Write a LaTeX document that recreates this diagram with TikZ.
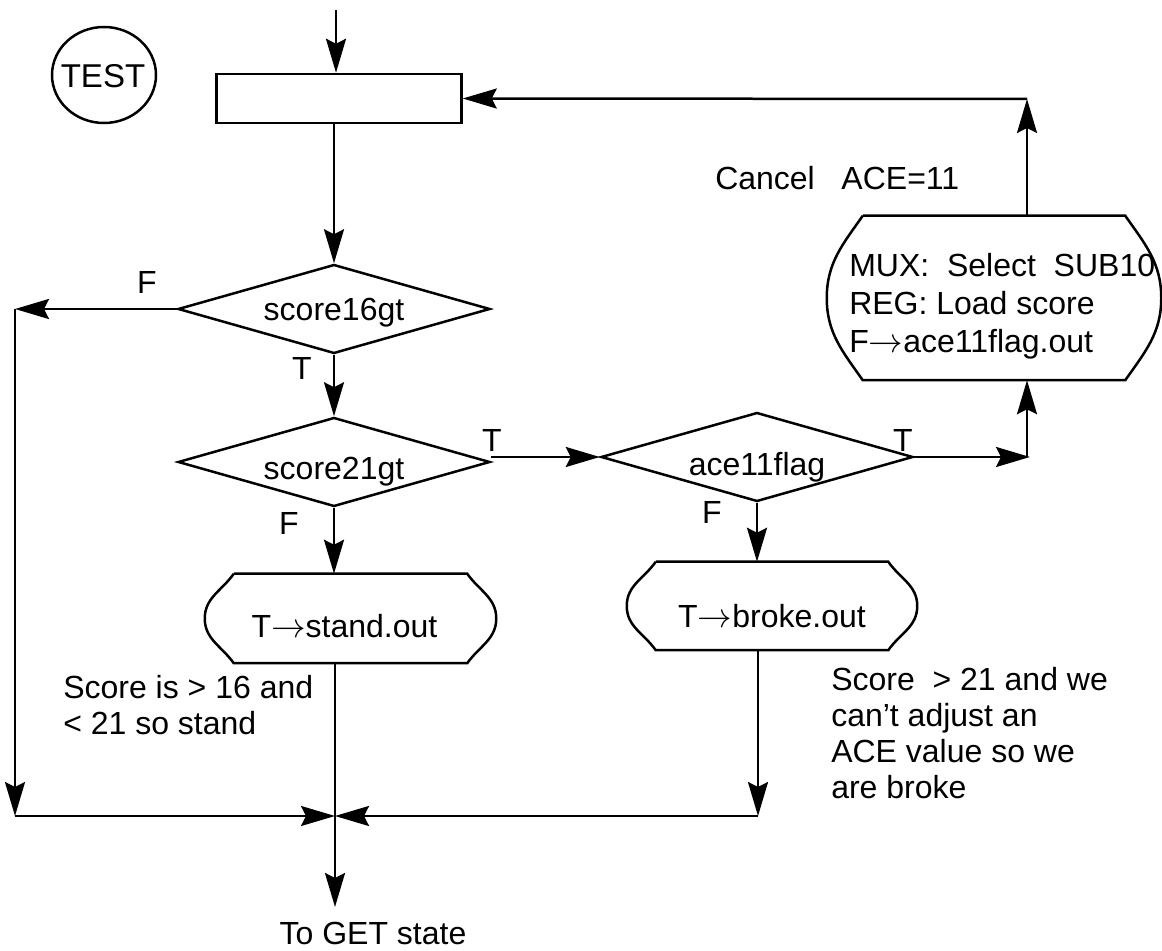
\documentclass[tikz,border=0pt]{standalone}
\usepackage{fontspec}
\setmainfont{Liberation Sans}
\usetikzlibrary{shapes.geometric,arrows.meta}
\newcommand\capsule[2]{%
  \draw ([xshift=#2]#1.north west) -- ([xshift=-#2]#1.north east)
    to[out=-55,in=90] (#1.east) to[out=-90,in=55] ([xshift=-#2]#1.south east)
    -- ([xshift=#2]#1.south west) to[out=125,in=-90] (#1.west)
    to[out=90,in=-125] ([xshift=#2]#1.north west);}
\begin{document}
\begin{tikzpicture}[x=0.5pt,y=-0.5pt,line width=1.25pt,
  every node/.style={font=\fontsize{16pt}{18pt}\selectfont},
  arr/.style={-{Stealth[length=17pt,width=10pt,inset=2.5pt]}},
  dia/.style={diamond,draw,inner sep=0pt,minimum width=156pt,minimum height=44.5pt},
  capbox/.style={rectangle,inner sep=0pt},
  lbl/.style={inner sep=0pt},
  txt/.style={inner sep=0pt,align=left,anchor=west}]
\useasboundingbox (0,0) rectangle (1162,951);
% nodes
\node[inner sep=0pt,font=\fontsize{16.5pt}{18pt}\selectfont] (test) at (103,76) {TEST};
\draw (104,75) ellipse [x radius=52, y radius=48];
\node[rectangle,draw,minimum width=122.5pt,minimum height=24.5pt] (r0) at (339,98.5) {};
\node[dia,label={[yshift=-2pt]center:score16gt}] (d1) at (334,309) {};
\node[dia,label={[yshift=-5pt]center:score21gt}] (d2) at (334,462) {};
\node[dia,label={[yshift=-5pt]center:ace11flag}] (d3) at (757,457) {};
\node[capbox,minimum width=144.5pt,minimum height=43.5pt,
  label={[xshift=-3pt,yshift=-4pt]center:T$\rightarrow$stand.out}] (s1) at (350.5,618.5) {};
\node[capbox,minimum width=144pt,minimum height=43pt,
  label={[yshift=-5pt]center:T$\rightarrow$broke.out}] (s2) at (772,606) {};
\node[capbox,minimum width=166pt,minimum height=81pt] (m) at (994,298) {};
\capsule{s1}{14.5pt}
\capsule{s2}{14.5pt}
\capsule{m}{18pt}
\node[txt,font=\fontsize{16pt}{19pt}\selectfont] (mt) at (848,306)
  {MUX:\ \ Select\ \ SUB10\\REG: Load score\\F$\rightarrow$ace11flag.out};
% coordinates
\coordinate (tin) at (336,10);
\coordinate (fl) at (15,309);
\coordinate (bl) at (15,816);
\coordinate (j) at (335,816);
\coordinate (out) at (335,907);
\coordinate (br) at (758,816);
\coordinate (tr) at (1030,457);
\coordinate (ur) at (1027,99);
% connectors
\draw[arr] (tin) -- (tin |- r0.north);
\draw[arr] (d1.north |- r0.south) -- (d1.north);
\draw[arr] (d1.west) -- (fl);
\draw[arr] (fl) -- (bl);
\draw[arr] (bl) -- (j);
\draw[arr] (d1.south) -- (d2.north);
\draw[arr] (d2.east |- d3.west) -- (d3.west);
\draw[arr] (d3.east) -- (tr);
\draw[arr] (ur |- tr) -- (ur |- m.south);
\draw[arr] (ur |- m.north) -- (ur);
\draw[arr] (ur) -- (r0.east);
\draw[arr] (d2.south) -- (d2.south |- s1.north);
\draw[arr] (d3.south) -- (d3.south |- s2.north);
\draw (j |- s1.south) -- (j);
\draw[arr] (j) -- (out);
\draw[arr] (br |- s2.south) -- (br);
\draw[arr] (br) -- (j);
% labels
\node[lbl] (lf1) at (147,282) {F};
\node[lbl] (lt1) at (302,368) {T};
\node[lbl] (lt2) at (492,440) {T};
\node[lbl] (lf2) at (289,523) {F};
\node[lbl] (lf3) at (712,512) {F};
\node[lbl] (lt3) at (903,440) {T};
\node[txt] (cancel) at (714,178) {Cancel\ \ \ ACE=11};
\node[txt] (note1) at (62,705) {Score is > 16 and\\< 21 so stand};
\node[txt] (note2) at (830,733) {Score\ \ > 21 and we\\can’t adjust an\\ACE value so we\\are broke};
\node[lbl] (get) at (373,933) {To GET state};
\end{tikzpicture}
\end{document}
